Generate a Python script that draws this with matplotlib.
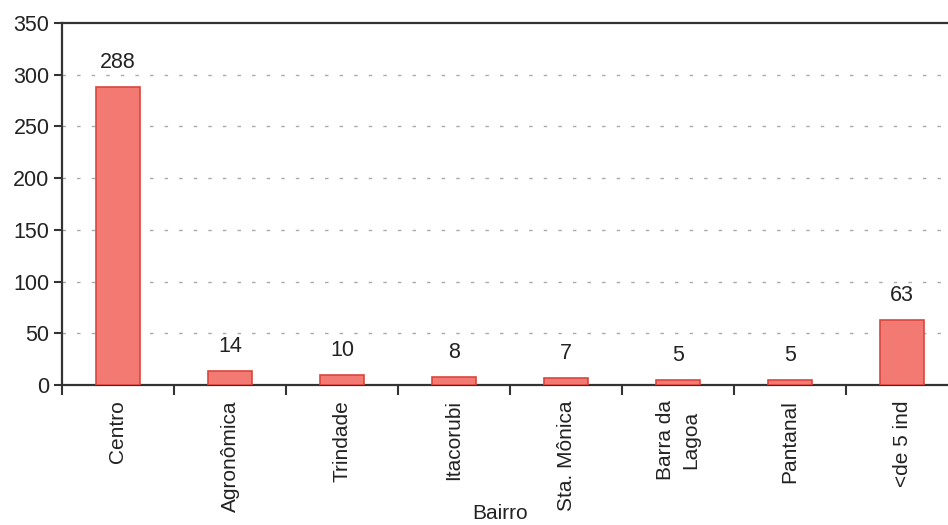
import matplotlib.pyplot as plt
import numpy as np

plt.rcParams['font.family'] = ['Liberation Sans', 'DejaVu Sans']

bairros = ["Centro", "Agronômica", "Trindade", "Itacorubi", "Sta. Mônica",
           "Barra da\nLagoa", "Pantanal", "<de 5 ind"]
contagem = [288, 14, 10, 8, 7, 5, 5, 63]

fig = plt.figure(figsize=(9.48, 5.25), dpi=100)
# axes run a little past the right edge of the figure
ax = fig.add_axes([62 / 948, 1 - 385 / 525, 896 / 948, 362 / 525])

x = np.arange(len(bairros))
ax.bar(x, contagem, width=0.4, color="#f27a72", edgecolor="#d9473e",
       linewidth=1.2, zorder=3)

for xi, v in zip(x, contagem):
    ax.annotate(str(v), (xi, v), xytext=(0, 10), textcoords="offset points",
                ha="center", va="bottom", fontsize=15.5, color="#222222")

ax.set_xlim(-0.5, len(bairros) - 0.5)
ax.set_ylim(0, 350)
ax.set_yticks(range(0, 351, 50))
ax.tick_params(axis="y", labelsize=15.5, length=6, width=1.5, pad=3,
               colors="#333333", labelcolor="#222222")

ax.set_xticks(x)
ax.set_xticklabels(bairros, rotation=90, fontsize=15, color="#222222",
                   linespacing=1.45, multialignment="center")
ax.tick_params(axis="x", which="major", length=0, pad=11)
ax.set_xticks(np.arange(-0.5, len(bairros), 1), minor=True)
ax.tick_params(axis="x", which="minor", length=7, width=1.5, colors="#333333")

for yv in range(50, 350, 50):
    ax.axhline(yv, color="#aaaaaa", linewidth=1.0,
               linestyle=(0, (2.5, 8)), zorder=1)

for side in ["left", "bottom", "top", "right"]:
    ax.spines[side].set_linewidth(1.6)
    ax.spines[side].set_color("#333333")

fig.text(500 / 948, 2 / 525, "Bairro", ha="center", va="bottom",
         fontsize=15, color="#222222")

fig.savefig("out.png", dpi=100)
